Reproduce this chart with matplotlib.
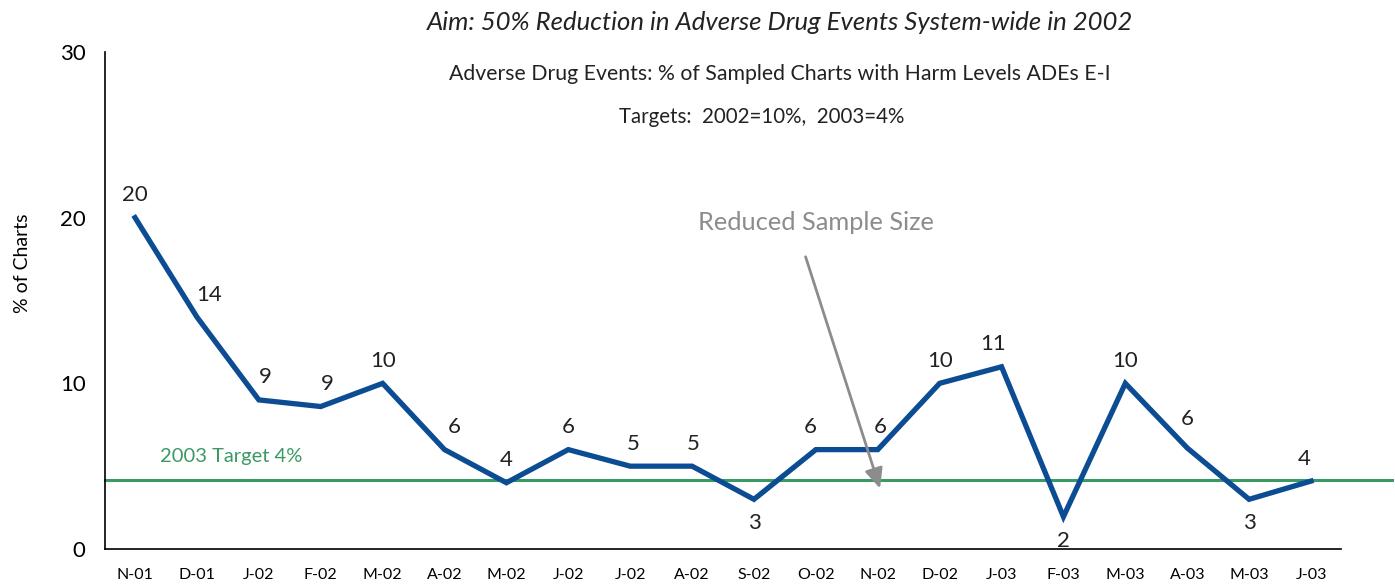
import matplotlib.pyplot as plt
import matplotlib.transforms as mtransforms

plt.rcParams['font.family'] = ['Lato', 'DejaVu Sans']

months = ['N-01', 'D-01', 'J-02', 'F-02', 'M-02', 'A-02', 'M-02', 'J-02', 'J-02', 'A-02',
          'S-02', 'O-02', 'N-02', 'D-02', 'J-03', 'F-03', 'M-03', 'A-03', 'M-03', 'J-03']
pct = [20, 14, 9, 8.6, 10, 6, 4, 6, 5, 5, 3, 6, 6, 10, 11, 1.95, 10, 6.1, 3, 4.1]
pct_labels = ['20', '14', '9', '9', '10', '6', '4', '6', '5', '5',
              '3', '6', '6', '10', '11', '2', '10', '6', '3', '4']
target_2003 = 4.15

blue = '#0b4c93'
green = '#3a9a63'
grey = '#8c8c8c'

# small horizontal nudges of the value labels (points), as placed in the original
nudge = [0, 9, 5, 5, 0, 7, 0, 0, 2, 1, 0, -4, 2, 0, -6, 0, 0, 0, 0, -5]

fig = plt.figure(figsize=(13.95, 5.84), dpi=100)
ax = fig.add_axes([0.0753, 0.0599, 0.886, 0.8511])

x = list(range(len(months)))
ax.plot(x, pct, color=blue, lw=3.8, solid_joinstyle='miter', zorder=3)

# target line runs a bit past the right edge of the axes
ax.plot([0, 1.041], [target_2003, target_2003], color=green, lw=2.2,
        transform=ax.get_yaxis_transform(), clip_on=False, zorder=2)
ax.text(0.4, target_2003 + 0.9, '2003 Target 4%', color=green, fontsize=14.5, va='bottom')

# value labels: below the point for the dips, above otherwise
below = {10, 15, 18}
for i, (v, s) in enumerate(zip(pct, pct_labels)):
    if i in below:
        ax.annotate(s, (i, v), xytext=(nudge[i], -10), textcoords='offset points',
                    ha='center', va='top', fontsize=16, color='#222222')
    else:
        dy = 14 if i == 17 else 9
        ax.annotate(s, (i, v), xytext=(nudge[i], dy), textcoords='offset points',
                    ha='center', va='bottom', fontsize=16, color='#222222')

ax.annotate('', xy=(12.05, 3.5), xytext=(10.82, 17.8),
            arrowprops=dict(arrowstyle='-|>,head_length=1.2,head_width=0.55',
                            color=grey, lw=2))
ax.text(11.0, 19.0, 'Reduced Sample Size', color=grey, fontsize=18.3,
        ha='center', va='bottom')

ax.set_xlim(-0.485, 19.485)
ax.set_ylim(0, 30)
ax.set_yticks([0, 10, 20, 30])
ax.set_xticks(x)
ax.set_xticklabels(months, fontsize=11.5)
shift = mtransforms.ScaledTranslation(-9 / 100, 0, fig.dpi_scale_trans)
for lab in ax.get_xticklabels():
    lab.set_transform(lab.get_transform() + shift)
ax.tick_params(axis='x', length=0, pad=14)
ax.tick_params(axis='y', length=0, pad=14, labelsize=16)
for side in ['top', 'right']:
    ax.spines[side].set_visible(False)
ax.spines['left'].set_linewidth(1.2)
ax.spines['bottom'].set_linewidth(1.2)

fig.text(0.016, 0.55, '% of Charts', rotation=90, fontsize=14, ha='center', va='center')

fig.text(0.559, 0.962, 'Aim: 50% Reduction in Adverse Drug Events System-wide in 2002',
         fontsize=18.5, style='italic', ha='center', va='center', color='#222222')
fig.text(0.559, 0.873, 'Adverse Drug Events: % of Sampled Charts with Harm Levels ADEs E-I',
         fontsize=15.3, ha='center', va='center', color='#222222')
fig.text(0.546, 0.800, 'Targets:  2002=10%,  2003=4%',
         fontsize=14.8, ha='center', va='center', color='#222222')

plt.savefig('out.png', dpi=100)
